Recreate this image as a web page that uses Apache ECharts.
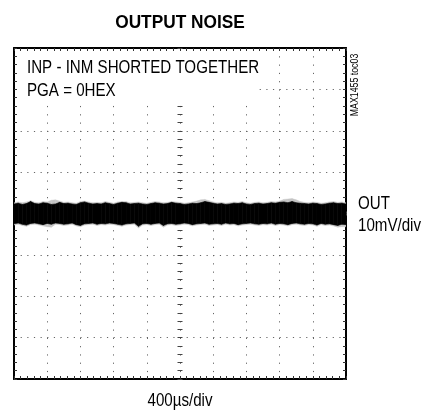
<!DOCTYPE html>
<html>
<head>
<meta charset="utf-8">
<script src="https://cdn.jsdelivr.net/npm/echarts@6/dist/echarts.min.js"></script>
<style>html,body{margin:0;padding:0;background:#fff}#c{width:429px;height:410px}</style>
</head>
<body>
<div id="c"></div>
<script>
// Time axis: 400 µs/div, 10 divisions, trigger at centre (µs)
const timeMin = -2000, timeMax = 2000, timeDiv = 400;
// Voltage axis: 10 mV/div, 8 divisions (mV)
const voltMin = -40, voltMax = 40, voltDiv = 10;

// Envelope of the dense (black) noise band, mV, read left to right
const blackTop = [2.3,2.5,2.2,2.4,2.9,2.4,2.3,2.6,2.5,2.2,
                  2.3,2.7,2.4,2.5,2.3,2.2,2.6,2.8,2.5,2.3,
                  2.4,2.3,2.6,2.4,2.2,2.5,2.7,2.6,2.3,2.4,
                  2.5,2.3,2.2,2.4,2.6,2.5,2.3,2.4,2.7,2.5,
                  2.4,2.2,2.3,2.5,2.4,2.6,2.9,2.7,2.5,2.3,
                  2.4,2.2,2.3,2.5,2.4,2.6,2.3,2.2,2.4,2.5,
                  2.3,2.4,2.6,2.5,2.7,2.8,2.6,2.9,2.6,2.5,
                  2.4,2.3,2.5,2.4,2.2,2.3,2.5,2.6,2.4,2.5,
                  2.3];
const blackBot = [-2.5,-2.3,-2.6,-2.8,-2.4,-2.3,-2.5,-2.7,-2.4,-2.6,
                  -2.3,-2.4,-2.6,-2.5,-2.3,-2.7,-2.9,-2.5,-2.4,-2.3,
                  -2.6,-2.4,-2.5,-2.3,-2.4,-2.6,-2.8,-2.5,-2.4,-2.3,
                  -3.1,-2.5,-2.4,-2.6,-2.4,-2.3,-2.9,-2.5,-2.4,-2.6,
                  -2.5,-2.3,-2.4,-2.7,-2.5,-2.4,-2.3,-2.6,-2.5,-2.4,
                  -2.6,-2.3,-2.5,-2.4,-2.7,-2.5,-2.4,-2.3,-2.5,-2.6,
                  -2.4,-2.5,-2.3,-2.6,-2.4,-2.5,-2.7,-2.4,-2.3,-2.5,
                  -2.6,-2.4,-2.5,-2.8,-2.4,-2.6,-2.5,-2.7,-2.9,-2.6,
                  -2.7];
// Envelope of the faint (grey) outer trace, mV
const greyTop = [2.6,2.8,2.6,2.8,3.1,2.7,2.6,2.9,2.8,3.2,
                 3.3,3.0,2.7,2.8,2.6,2.5,2.9,3.0,2.8,2.6,
                 2.7,2.6,2.9,2.7,2.5,2.8,2.9,2.9,2.6,2.7,
                 2.8,2.6,2.5,2.7,2.9,2.8,2.6,2.7,2.9,2.8,
                 2.7,2.5,2.6,2.8,3.0,3.3,3.4,3.1,2.8,2.6,
                 2.7,2.5,2.6,2.8,2.7,2.9,2.6,2.5,2.7,2.8,
                 2.6,2.7,2.9,2.8,3.0,3.4,3.5,3.6,3.3,2.9,
                 2.7,2.6,2.8,2.7,2.5,2.6,2.8,2.9,2.7,2.8,
                 2.6];
const greyBot = [-2.8,-2.6,-2.9,-3.1,-2.7,-2.6,-2.8,-3.0,-3.2,-3.3,
                 -2.6,-2.7,-2.9,-2.8,-2.6,-3.0,-3.2,-2.8,-2.7,-2.6,
                 -2.9,-2.7,-2.8,-2.6,-2.7,-2.9,-3.1,-2.8,-2.7,-2.6,
                 -3.5,-2.8,-2.7,-2.9,-2.7,-2.6,-3.3,-2.8,-2.7,-2.9,
                 -2.8,-2.6,-2.7,-3.0,-2.8,-2.7,-2.6,-2.9,-2.8,-2.7,
                 -2.9,-2.6,-2.8,-2.7,-3.0,-2.8,-2.7,-2.6,-2.8,-2.9,
                 -2.7,-2.8,-2.6,-2.9,-2.7,-2.8,-3.0,-2.7,-2.6,-2.8,
                 -2.9,-2.7,-2.8,-3.1,-2.7,-2.9,-2.8,-3.0,-3.3,-3.2,
                 -3.2];

const titleText = 'OUTPUT NOISE';
const noteLines = ['INP - INM SHORTED TOGETHER', 'PGA = 0HEX'];
const chName = 'OUT';
const vScale = '10mV/div';
const tScale = '400µs/div';
const figId = 'MAX1455 toc03';

// one row per segment between consecutive samples: [t0, lo0, hi0, t1, lo1, hi1]
function segments(lo, hi){
  const n = Math.min(lo.length, hi.length), rows = [];
  for (let i = 0; i < n - 1; i++){
    const t0 = timeMin + i*(timeMax-timeMin)/(n-1), t1 = timeMin + (i+1)*(timeMax-timeMin)/(n-1);
    rows.push([t0, lo[i], hi[i], t1, lo[i+1], hi[i+1]]);
  }
  return rows;
}
function bandRenderer(color, lw){
  return function(params, api){
    const p1 = api.coord([api.value(0), api.value(2)]);
    const p2 = api.coord([api.value(3), api.value(5)]);
    const p3 = api.coord([api.value(3), api.value(4)]);
    const p4 = api.coord([api.value(0), api.value(1)]);
    return {type:'polygon', shape:{points:[p1,p2,p3,p4]},
            style:{fill:color, stroke:color, lineWidth:lw}};
  };
}

const chart = echarts.init(document.getElementById('c'), null, {renderer:'canvas'});
const FONT = '"Liberation Sans", Arial, sans-serif';
const dotV = {color:'#666', width:1, type:[1.2, 7.08]};
const dotH = {color:'#666', width:1, type:[1.2, 5.44]};

function xAx(extra){
  return Object.assign({type:'value', min:timeMin, max:timeMax, interval:timeDiv,
    axisLabel:{show:false}, splitLine:{show:false},
    axisLine:{show:false}, axisTick:{show:false}}, extra);
}
function yAx(extra){
  return Object.assign({type:'value', min:voltMin, max:voltMax, interval:voltDiv,
    axisLabel:{show:false}, splitLine:{show:false},
    axisLine:{show:false}, axisTick:{show:false}}, extra);
}
const borderTick = {show:true, inside:true, length:3, lineStyle:{color:'#333', width:1}};
const borderMinor = {show:true, splitNumber:5, length:3, lineStyle:{color:'#333', width:1}};
const borderLine = {show:true, onZero:false, lineStyle:{color:'#000', width:2}};

const option = {
  animation:false,
  grid:{left:14, right:83, top:48, bottom:31, containLabel:false},
  xAxis:[
    xAx({position:'bottom', axisLine:borderLine, axisTick:borderTick, minorTick:borderMinor,
         splitLine:{show:true, lineStyle:dotV}}),
    xAx({position:'top', axisLine:borderLine, axisTick:borderTick, minorTick:borderMinor}),
    xAx({position:'bottom', axisLine:{show:false, onZero:true, onZeroAxisIndex:0},
         axisTick:{show:true, inside:true, length:2, lineStyle:{color:'#444'}},
         minorTick:{show:true, splitNumber:5, length:2, lineStyle:{color:'#444'}}}),
    xAx({position:'bottom', axisLine:{show:false, onZero:true, onZeroAxisIndex:0},
         axisTick:{show:true, inside:false, length:2, lineStyle:{color:'#444'}},
         minorTick:{show:true, splitNumber:5, length:2, lineStyle:{color:'#444'}}})
  ],
  yAxis:[
    yAx({position:'left', axisLine:borderLine, axisTick:borderTick, minorTick:borderMinor,
         splitLine:{show:true, lineStyle:dotH}}),
    yAx({position:'right', axisLine:borderLine, axisTick:borderTick, minorTick:borderMinor}),
    yAx({position:'left', axisLine:{show:false, onZero:true, onZeroAxisIndex:0},
         axisTick:{show:true, inside:true, length:2.5, lineStyle:{color:'#444'}},
         minorTick:{show:true, splitNumber:5, length:2.5, lineStyle:{color:'#444'}}}),
    yAx({position:'left', axisLine:{show:false, onZero:true, onZeroAxisIndex:0},
         axisTick:{show:true, inside:false, length:2.5, lineStyle:{color:'#444'}},
         minorTick:{show:true, splitNumber:5, length:2.5, lineStyle:{color:'#444'}}})
  ],
  series:[
    {type:'custom', xAxisIndex:0, yAxisIndex:0, data:segments(greyBot, greyTop),
     renderItem:bandRenderer('#c4c4c4', 0.4), silent:true, z:2, clip:true},
    {type:'custom', xAxisIndex:0, yAxisIndex:0, data:segments(blackBot, blackTop),
     renderItem:bandRenderer('#000', 0.6), silent:true, z:3, clip:true}
  ],
  graphic:[
    {type:'text', x:180, y:23.5, scaleX:0.96, style:{text:titleText, font:'bold 18px '+FONT, fill:'#000', textAlign:'center', textVerticalAlign:'middle'}},
    {type:'rect', shape:{x:17, y:52, width:239, height:50}, style:{fill:'#fff'}, z:5},
    {type:'text', x:27, y:68.5, scaleX:0.84, z:6, style:{text:noteLines[0], font:'18px '+FONT, fill:'#000', textAlign:'left', textVerticalAlign:'middle'}},
    {type:'text', x:27, y:91, scaleX:0.84, z:6, style:{text:noteLines[1], font:'18px '+FONT, fill:'#000', textAlign:'left', textVerticalAlign:'middle'}},
    {type:'text', x:358, y:204, scaleX:0.84, style:{text:chName, font:'18px '+FONT, fill:'#000', textAlign:'left', textVerticalAlign:'middle'}},
    {type:'text', x:358, y:226, scaleX:0.84, style:{text:vScale, font:'18px '+FONT, fill:'#000', textAlign:'left', textVerticalAlign:'middle'}},
    {type:'text', x:180, y:401, scaleX:0.84, style:{text:tScale, font:'18px '+FONT, fill:'#000', textAlign:'center', textVerticalAlign:'middle'}},
    {type:'text', x:355, y:85, rotation:Math.PI/2, scaleX:0.88, style:{text:figId, font:'10px '+FONT, fill:'#000', textAlign:'center', textVerticalAlign:'middle'}}
  ]
};
chart.setOption(option);
</script>
</body>
</html>
